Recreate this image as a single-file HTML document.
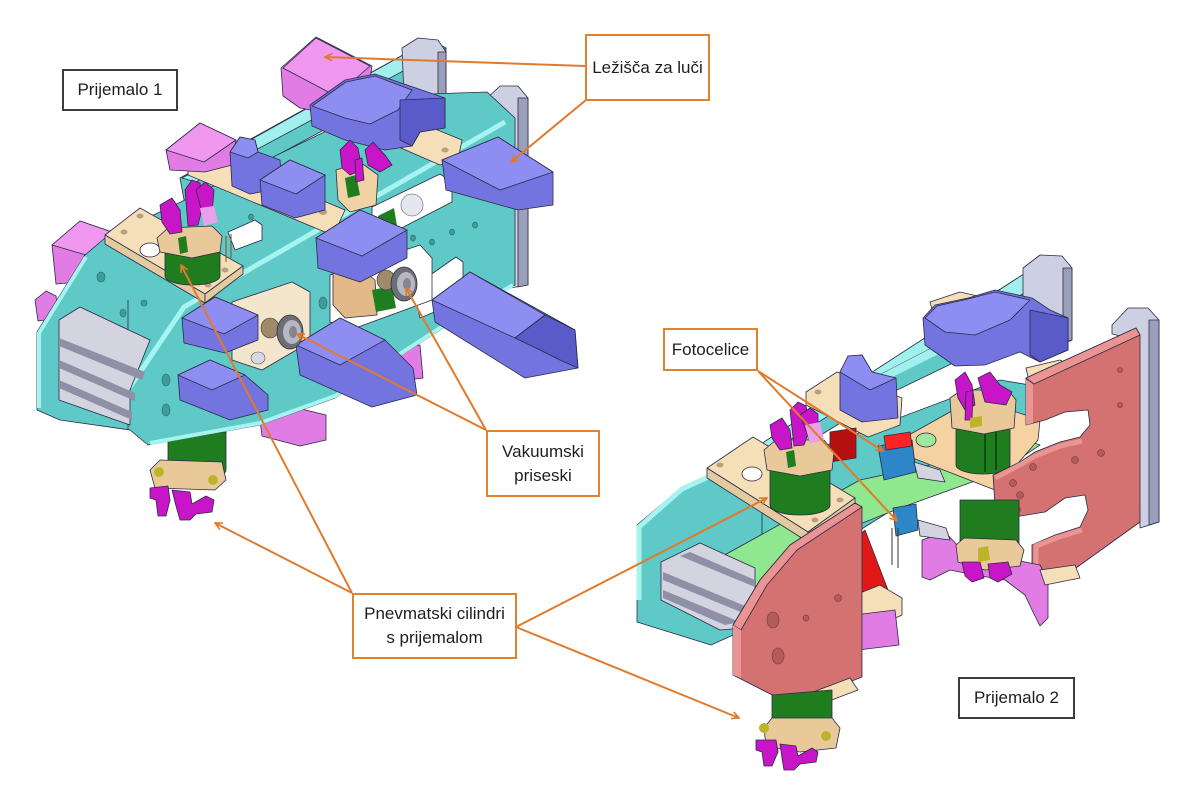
<!DOCTYPE html>
<html><head><meta charset="utf-8">
<style>
html,body{margin:0;padding:0;background:#fff;}
#c{position:relative;width:1200px;height:800px;overflow:hidden;background:#fff;}
svg{position:absolute;left:0;top:0;}
.lb{position:absolute;box-sizing:border-box;border:2px solid #e2822f;background:#fff;font-family:"Liberation Sans",sans-serif;font-size:17px;color:#1e1e1e;display:flex;align-items:center;justify-content:center;text-align:center;line-height:24px;white-space:nowrap;}
.dk{border-color:#3c3c3c;}
.o{stroke:#2b2b45;stroke-width:0.8;stroke-linejoin:round}
.cy{fill:#5ec9c6}.cyl{fill:#a2f0ee}.cyd{fill:#48b0ae}
.bl{fill:#7474e0}.blt{fill:#8e8ef2}.bld{fill:#5a5ac8}
.pk{fill:#e07ce4}.pkt{fill:#f097f0}
.mg{fill:#c815c8}
.be{fill:#f4dfb8}.bed{fill:#e3caa0}
.gr{fill:#1f7d1f}
.gy{fill:#ccd0e2}.gyd{fill:#9aa0ba}
.sa{fill:#d47171}.sal{fill:#ea9494}
.lg{fill:#8fe88f}
.sv{fill:#d4d4e0}
.ho{fill:#3f9c9a;stroke:#2a6a6a;stroke-width:0.6}
.hs{fill:#b35a5a;stroke:#7a3a3a;stroke-width:0.6}
.yl{fill:#bdb42a}
</style></head><body><div id="c">
<svg width="1200" height="800" viewBox="0 0 1200 800">
<defs>
<marker id="ah" viewBox="0 0 10 10" refX="9" refY="5" markerWidth="9" markerHeight="9" markerUnits="userSpaceOnUse" orient="auto"><path d="M1,1 L9,5 L1,9" fill="none" stroke="#e07a2c" stroke-width="1.8"/></marker>
</defs>

<!-- ================= LEFT ASSEMBLY ================= -->
<polygon class="cy o" points="180,178 430,40 446,48 446,64 185,205"/>
<polygon class="cyl o" points="182,178 430,40 446,48 196,182"/>
<path class="gy o" d="M402,48 L418,38 L438,40 L446,52 L446,128 L432,130 Q428,105 404,96 Z"/>
<polygon class="gyd o" points="438,52 446,52 446,128 438,129"/>
<polygon class="gy o" points="485,100 500,86 518,86 528,98 528,285 510,288 510,118 495,115 485,110"/>
<polygon class="gyd o" points="518,98 528,98 528,285 518,287"/>

<polygon class="pk o" points="259,412 285,405 326,415 326,440 300,446 262,436"/>
<polygon class="pk o" points="390,348 420,345 423,378 392,382"/>

<path class="gr o" d="M168,432 L226,432 L226,470 A29,9 0 0 1 168,470 Z"/>
<polygon fill="#e9c99a" class="o" points="150,470 160,460 222,462 226,480 215,490 155,488"/>
<polygon class="mg o" points="150,488 168,486 170,500 166,516 158,516 156,500 150,498"/>
<polygon class="mg o" points="172,490 190,492 192,504 206,496 214,500 212,512 196,514 190,520 180,520 176,506"/>
<circle class="yl" cx="159" cy="472" r="5"/><circle class="yl" cx="213" cy="480" r="5"/>

<polygon class="pk o" points="52,245 80,221 112,232 110,258 82,262 78,282 56,284"/>
<polygon class="pkt o" points="52,245 80,221 112,232 86,255"/>
<polygon class="pk o" points="35,300 46,291 56,296 59,318 38,321"/>

<polygon class="cy o" points="37,332 85,255 105,238 185,200 400,95 487,92 515,118 515,285 440,330 335,398 260,425 148,445 130,430 60,420 37,410"/>
<polyline fill="none" stroke="#a6f3f0" stroke-width="5" points="130,387 184,307 505,122"/>
<polyline fill="none" stroke="#a6f3f0" stroke-width="4" points="39,408 39,333 86,257"/>
<polyline fill="none" stroke="#a6f3f0" stroke-width="4" points="150,443 260,423 335,396 440,328 513,285"/>
<polyline fill="none" stroke="#2b2b45" stroke-width="0.8" points="128,300 128,430"/>

<polygon fill="#fff" class="o" points="372,207 440,174 452,182 452,202 386,236 372,229"/>
<circle cx="412" cy="205" r="11" fill="#e6e6ee" stroke="#888" stroke-width="0.8"/>
<polygon class="gr" points="378,216 394,208 398,232 384,236"/>
<polygon fill="#fff" class="o" points="413,287 456,257 463,262 463,300 420,318"/>
<polygon fill="#f3e6cc" class="o" points="232,302 292,282 310,292 310,342 262,370 232,360"/>
<polygon fill="#fff" class="o" points="330,275 420,245 432,258 432,300 350,330 330,322"/>
<polygon fill="#e2b987" class="o" points="333,270 360,268 375,280 377,315 345,318 333,305"/>
<polygon class="gr" points="372,290 392,286 396,308 376,312"/>
<polygon fill="#fff" class="o" points="228,232 255,220 262,225 262,240 235,250"/>

<ellipse class="ho" cx="101" cy="277" rx="4" ry="5"/>
<ellipse class="ho" cx="123" cy="313" rx="3" ry="4"/>
<ellipse class="ho" cx="144" cy="303" rx="3" ry="3"/>
<ellipse class="ho" cx="166" cy="380" rx="4" ry="6"/>
<ellipse class="ho" cx="166" cy="410" rx="4" ry="6"/>
<ellipse class="ho" cx="413" cy="238" rx="2.5" ry="3"/>
<ellipse class="ho" cx="432" cy="242" rx="2.5" ry="3"/>
<ellipse class="ho" cx="452" cy="232" rx="2.5" ry="3"/>
<ellipse class="ho" cx="475" cy="225" rx="2.5" ry="3"/>
<ellipse class="ho" cx="323" cy="303" rx="4" ry="6"/>
<ellipse class="ho" cx="251" cy="217" rx="2.5" ry="3"/>

<polygon class="be o" points="188,165 210,153 345,210 335,232 325,232 188,175"/>
<ellipse cx="210" cy="163" rx="4" ry="3" fill="#b8a080"/><ellipse cx="323" cy="212" rx="4" ry="3" fill="#b8a080"/>
<polygon class="pk o" points="166,150 200,123 236,140 232,165 205,172 170,170"/>
<polygon class="pkt o" points="166,150 200,123 236,140 204,162"/>
<polygon class="pk o" points="281,68 316,37 372,66 368,92 322,112 300,108 283,96"/>
<polygon class="pkt o" points="283,68 316,38 370,66 336,96"/>
<polygon class="be o" points="318,100 340,90 462,140 458,160 440,165 318,112"/>
<ellipse cx="334" cy="95" rx="3.5" ry="2.5" fill="#b8a080"/><ellipse cx="445" cy="150" rx="3.5" ry="2.5" fill="#b8a080"/>
<polygon fill="#f0d2a4" class="o" points="336,170 360,162 378,175 376,205 350,212 338,200"/>
<polygon class="gr" points="345,178 356,175 360,195 348,198"/>
<path class="bl o" d="M310,105 L345,80 L375,74 L410,86 L445,98 L445,128 L420,132 L412,146 L385,150 L345,140 L312,126 Z"/>
<polygon class="blt o" points="312,106 346,82 375,76 412,90 398,110 370,124 345,118"/>
<polygon class="bld o" points="400,100 445,98 445,128 420,132 412,146 400,140"/>
<polygon class="mg o" points="340,150 350,140 358,148 362,170 350,175 342,168"/>
<polygon class="mg o" points="365,150 373,142 385,155 392,165 380,172 368,165"/>
<polygon class="mg o" points="355,160 362,158 364,180 356,182"/>
<polygon class="bl o" points="230,152 240,137 255,140 258,152 280,160 282,188 250,194 232,186"/>
<polygon class="blt o" points="230,152 240,137 255,140 258,152 248,158"/>
<polygon class="bl o" points="260,180 290,160 325,175 325,210 295,218 262,205"/>
<polygon class="blt o" points="260,180 290,160 325,175 296,194"/>

<polygon class="be o" points="105,235 140,208 243,266 205,294"/>
<polygon class="bed o" points="105,235 205,294 205,303 105,244"/>
<polygon class="bed o" points="205,294 243,266 243,274 205,303"/>
<ellipse cx="150" cy="250" rx="10" ry="7" fill="#fff" class="o"/>
<ellipse cx="124" cy="232" rx="3.5" ry="2.5" fill="#b8a080"/><ellipse cx="140" cy="216" rx="3.5" ry="2.5" fill="#b8a080"/>
<ellipse cx="225" cy="270" rx="3.5" ry="2.5" fill="#b8a080"/><ellipse cx="208" cy="285" rx="3.5" ry="2.5" fill="#b8a080"/>
<path class="gr o" d="M165,248 L220,248 L220,276 A27.5,9 0 0 1 165,276 Z"/>
<polygon fill="#e9c99a" class="o" points="157,238 168,228 212,226 222,236 220,252 192,258 160,252"/>
<polygon class="gr" points="178,238 186,236 188,252 180,254"/>
<polygon class="mg o" points="160,205 172,198 180,210 182,232 170,234 162,222"/>
<polygon class="mg o" points="185,190 192,180 200,183 203,205 198,225 188,226"/>
<polygon class="mg o" points="196,190 205,182 214,190 212,214 204,220"/>
<polygon fill="#e8a0e8" points="200,208 214,206 218,222 204,226"/>
<line x1="226" y1="236" x2="226" y2="262" stroke="#8a4a2a" stroke-width="1"/>
<line x1="231" y1="234" x2="231" y2="258" stroke="#8a4a2a" stroke-width="1"/>

<polygon class="sv o" points="59,320 80,307 150,340 130,390 130,425 59,400"/>
<polygon fill="#8e90a6" points="59,338 145,372 142,380 59,346"/>
<polygon fill="#8e90a6" points="59,360 135,393 135,401 59,368"/>
<polygon fill="#8e90a6" points="59,380 132,412 132,420 59,388"/>

<polygon class="bl o" points="316,238 360,210 407,230 407,258 360,282 318,268"/>
<polygon class="blt o" points="316,238 360,210 407,230 362,256"/>
<polygon class="bl o" points="442,160 498,137 553,172 553,205 518,210 500,205 446,190"/>
<polygon class="blt o" points="442,160 498,137 553,172 500,190"/>
<polygon class="bl o" points="432,300 470,272 575,330 578,368 525,378 435,322"/>
<polygon class="blt o" points="432,300 470,272 545,315 515,338"/>
<polygon class="bld o" points="515,338 545,315 575,330 578,368 560,360 540,350"/>
<polygon class="bl o" points="182,318 215,297 258,315 258,340 225,353 184,343"/>
<polygon class="blt o" points="182,318 215,297 258,315 224,334"/>
<polygon class="bl o" points="178,375 210,360 245,375 268,395 268,410 230,420 180,400"/>
<polygon class="blt o" points="178,375 210,360 245,375 212,390"/>
<polygon class="bl o" points="296,345 340,318 385,340 413,368 417,395 372,407 300,375"/>
<polygon class="blt o" points="296,345 340,318 385,340 340,365"/>

<ellipse cx="270" cy="328" rx="9" ry="10" fill="#a08a6a" stroke="#333" stroke-width="0.6"/>
<ellipse cx="290" cy="332" rx="13" ry="17" fill="#6e6e78" stroke="#333" stroke-width="0.8"/>
<ellipse cx="292" cy="332" rx="9" ry="12" fill="#b8b8c2"/>
<ellipse cx="293" cy="332" rx="4" ry="6" fill="#85858f"/>
<ellipse cx="258" cy="358" rx="7" ry="6" fill="#d8d8e2" stroke="#555" stroke-width="0.6"/>
<ellipse cx="386" cy="280" rx="9" ry="10" fill="#a08a6a" stroke="#333" stroke-width="0.6"/>
<ellipse cx="404" cy="284" rx="13" ry="17" fill="#6e6e78" stroke="#333" stroke-width="0.8"/>
<ellipse cx="406" cy="284" rx="9" ry="12" fill="#b8b8c2"/>
<ellipse cx="407" cy="284" rx="4" ry="6" fill="#85858f"/>

<!-- ================= RIGHT ASSEMBLY ================= -->
<polygon class="cy o" points="662,508 1030,270 1048,278 1048,294 668,530"/>
<polygon class="cyl o" points="662,508 1030,270 1048,278 672,514"/>
<path class="gy o" d="M1023,268 L1040,255 L1062,256 L1072,268 L1072,340 L1058,346 Q1052,318 1023,312 Z"/>
<polygon class="gyd o" points="1063,268 1072,268 1072,340 1063,342"/>
<polygon class="gy o" points="1112,325 1128,308 1148,308 1159,320 1159,522 1140,528 1137,340 1112,334"/>
<polygon class="gyd o" points="1149,320 1159,320 1159,522 1149,525"/>

<polygon class="cy o" points="760,470 1000,380 1030,385 1030,440 900,505 860,530 760,560"/>
<polygon class="cy o" points="860,385 1025,300 1032,308 1032,325 866,405"/>
<polygon class="cyl" points="860,385 1025,300 1032,308 864,391"/>

<polygon class="be o" points="930,302 960,292 995,300 990,320 935,320"/>
<polygon class="be o" points="1026,368 1060,360 1082,372 1080,386 1030,386"/>
<polygon class="bl o" points="923,318 935,305 968,298 995,290 1032,298 1050,310 1068,318 1068,350 1040,362 1020,352 985,365 955,366 925,345"/>
<polygon class="blt o" points="925,318 937,306 968,299 995,292 1030,300 1010,320 975,335 945,332"/>
<polygon class="bld o" points="1030,310 1068,318 1068,350 1040,362 1030,355"/>
<polygon class="be o" points="806,392 837,372 902,398 900,425 868,437 806,405"/>
<ellipse cx="818" cy="392" rx="3.5" ry="2.5" fill="#b8a080"/>
<polygon class="bl o" points="840,372 848,356 862,355 872,372 896,378 898,418 862,422 840,410"/>
<polygon class="blt o" points="840,372 848,356 862,355 872,372 896,378 870,390"/>
<polygon fill="#b50f0f" class="o" points="830,432 856,428 856,458 830,462"/>

<polygon class="cy o" points="637,525 682,487 726,467 762,456 762,622 711,645 637,622"/>
<polyline fill="none" stroke="#a6f3f0" stroke-width="5" points="639,600 639,527 682,489 726,469 760,458"/>
<ellipse class="ho" cx="678" cy="600" rx="3" ry="4"/>

<polygon class="lg o" points="712,562 860,480 944,462 1000,432 1040,445 1000,472 900,508 860,524 762,585 712,602"/>

<polygon fill="#f5d2a2" class="o" points="900,440 975,398 1040,420 1038,440 995,490 905,455"/>
<ellipse cx="926" cy="440" rx="10" ry="7" fill="#9ee89e" class="o"/>
<path class="gr o" d="M956,420 L1010,420 L1010,465 A27,9 0 0 1 956,465 Z"/>
<line x1="985" y1="430" x2="985" y2="472" stroke="#0d4d0d" stroke-width="2"/>
<line x1="996" y1="428" x2="996" y2="470" stroke="#0d4d0d" stroke-width="2"/>
<polygon fill="#e9c99a" class="o" points="950,398 962,390 1008,390 1016,400 1014,428 984,434 952,428"/>
<polygon class="mg o" points="955,380 965,372 972,385 975,405 965,410 958,398"/>
<polygon class="mg o" points="978,378 990,372 1000,385 1012,392 1006,405 985,402"/>
<polygon class="mg o" points="966,392 973,390 972,420 965,420"/>
<polygon class="yl" points="970,418 982,416 982,426 970,428"/>

<polygon class="sa o" points="1026,378 1136,328 1140,335 1140,522 1062,578 1032,572 1032,545 1055,535 1080,527 1088,510 1085,495 1065,498 1045,512 996,520 993,475 1020,462 1035,452 1060,442 1080,437 1090,425 1088,410 1065,412 1045,420 1026,425"/>
<polygon class="sal o" points="1026,378 1136,328 1140,335 1034,384"/>
<polygon class="sal" points="1026,380 1033,384 1033,423 1026,425"/>
<polyline fill="none" stroke="#ea9494" stroke-width="5" points="995,478 1020,465 1035,456 1060,446 1082,441"/>
<polyline fill="none" stroke="#ea9494" stroke-width="5" points="1036,568 1036,546 1056,538 1082,530"/>
<circle class="hs" cx="1101" cy="453" r="3.5"/><circle class="hs" cx="1075" cy="460" r="3.5"/>
<circle class="hs" cx="1033" cy="467" r="3.5"/><circle class="hs" cx="1013" cy="483" r="3.5"/>
<circle class="hs" cx="1020" cy="495" r="3.5"/><circle class="hs" cx="1017" cy="510" r="3.5"/>
<circle class="hs" cx="1120" cy="405" r="2.5"/><circle class="hs" cx="1120" cy="370" r="2.5"/>

<path class="gr o" d="M960,500 L1019,500 L1019,548 L960,548 Z"/>
<polygon class="pk o" points="922,540 945,532 960,548 990,555 1015,560 1040,565 1048,580 1048,618 1040,626 1032,610 1025,595 1005,580 975,575 950,570 930,580 922,577"/>
<polygon fill="#e9c99a" class="o" points="956,545 964,538 1016,540 1024,550 1020,566 985,570 958,562"/>
<polygon class="mg o" points="962,562 980,562 984,578 972,582 965,576"/>
<polygon class="mg o" points="988,564 1008,562 1012,574 998,582 990,578"/>
<polygon class="yl" points="978,548 988,546 990,560 978,562"/>
<polygon class="be o" points="1040,570 1075,565 1080,578 1045,585"/>

<polygon fill="#2c86c8" class="o" points="878,446 912,440 916,472 884,480"/>
<polygon fill="#ff2424" class="o" points="884,436 910,432 912,446 886,450"/>
<polygon class="sv o" points="914,462 940,470 945,482 918,478"/>
<polygon fill="#2c86c8" class="o" points="893,508 916,504 918,530 896,536"/>
<polygon class="sv o" points="918,520 946,528 950,540 920,536"/>
<line x1="892" y1="528" x2="892" y2="565" stroke="#333" stroke-width="1"/>
<line x1="898" y1="528" x2="898" y2="568" stroke="#333" stroke-width="1"/>

<polygon class="be o" points="707,468 753,437 855,498 808,532"/>
<polygon class="bed o" points="707,468 808,532 808,542 707,478"/>
<polygon class="bed o" points="808,532 855,498 855,508 808,542"/>
<ellipse cx="752" cy="474" rx="10" ry="7" fill="#fff" class="o"/>
<ellipse cx="720" cy="465" rx="3.5" ry="2.5" fill="#b8a080"/><ellipse cx="840" cy="500" rx="3.5" ry="2.5" fill="#b8a080"/>
<ellipse cx="815" cy="520" rx="3.5" ry="2.5" fill="#b8a080"/>
<path class="gr o" d="M770,465 L830,465 L830,505 A30,10 0 0 1 770,505 Z"/>
<polygon fill="#e9c99a" class="o" points="764,450 776,440 824,440 834,452 832,470 800,476 767,470"/>
<polygon class="gr" points="786,452 794,450 796,466 788,468"/>
<polygon class="mg o" points="770,425 782,418 790,430 792,448 780,450 772,438"/>
<polygon class="mg o" points="790,410 798,402 806,406 810,428 804,445 794,446"/>
<polygon class="mg o" points="800,415 810,408 818,414 818,436 810,442"/>
<polygon fill="#e8a0e8" points="805,425 820,422 824,440 810,444"/>

<polygon class="sv o" points="661,562 700,543 755,568 755,627 720,630 661,600"/>
<polygon fill="#8e90a6" points="663,572 755,610 755,618 663,580"/>
<polygon fill="#8e90a6" points="663,590 740,622 725,625 663,598"/>
<polygon fill="#8e90a6" points="690,552 755,580 755,587 680,556"/>

<polygon fill="#e01818" class="o" points="850,545 865,530 888,590 885,608 860,612 850,600"/>
<polygon class="be o" points="855,595 880,585 902,598 902,615 880,625 855,610"/>
<polygon class="pk o" points="854,615 895,610 899,645 858,650"/>

<polygon class="sa o" points="733,625 760,580 790,545 855,503 862,507 862,677 792,705 733,675"/>
<polygon class="sal o" points="733,625 760,580 790,545 855,503 862,507 797,550 767,585 741,630"/>
<polygon class="sal" points="733,625 741,630 741,678 733,675"/>
<ellipse class="hs" cx="773" cy="620" rx="6" ry="8"/>
<ellipse class="hs" cx="778" cy="656" rx="6" ry="8"/>
<circle class="hs" cx="806" cy="618" r="3"/>
<circle class="hs" cx="838" cy="598" r="3.5"/>
<polygon class="be o" points="792,700 850,678 858,690 800,712"/>

<path class="gr o" d="M772,695 L832,690 L832,728 L772,732 Z"/>
<polygon fill="#e9c99a" class="o" points="764,728 772,718 832,718 840,728 836,748 800,752 766,746"/>
<polygon class="mg o" points="756,740 776,740 778,752 772,766 764,766 762,752 756,750"/>
<polygon class="mg o" points="780,744 796,746 798,756 812,748 818,752 816,762 800,764 794,770 784,770 782,758"/>
<circle class="yl" cx="764" cy="728" r="5"/><circle class="yl" cx="826" cy="736" r="5"/>

<!-- ================= ARROWS ================= -->
<g stroke="#e07a2c" stroke-width="2" fill="none" marker-end="url(#ah)">
<line x1="585" y1="66" x2="325" y2="57"/>
<line x1="586" y1="100" x2="511" y2="162"/>
<line x1="758" y1="371" x2="883" y2="451"/>
<line x1="758" y1="371" x2="897" y2="521"/>
<line x1="486" y1="430" x2="297" y2="334"/>
<line x1="486" y1="430" x2="406" y2="288"/>
<line x1="352" y1="593" x2="215" y2="523"/>
<line x1="352" y1="593" x2="181" y2="265"/>
<line x1="516" y1="627" x2="767" y2="498"/>
<line x1="516" y1="627" x2="739" y2="718"/>
</g>
</svg>

<div class="lb dk" style="left:62px;top:69px;width:116px;height:42px">Prijemalo 1</div>
<div class="lb" style="left:585px;top:34px;width:125px;height:67px">Ležišča za luči</div>
<div class="lb" style="left:663px;top:328px;width:95px;height:43px">Fotocelice</div>
<div class="lb" style="left:486px;top:430px;width:114px;height:67px">Vakuumski<br>priseski</div>
<div class="lb" style="left:352px;top:593px;width:165px;height:66px">Pnevmatski cilindri<br>s prijemalom</div>
<div class="lb dk" style="left:958px;top:677px;width:117px;height:42px">Prijemalo 2</div>
</div></body></html>
